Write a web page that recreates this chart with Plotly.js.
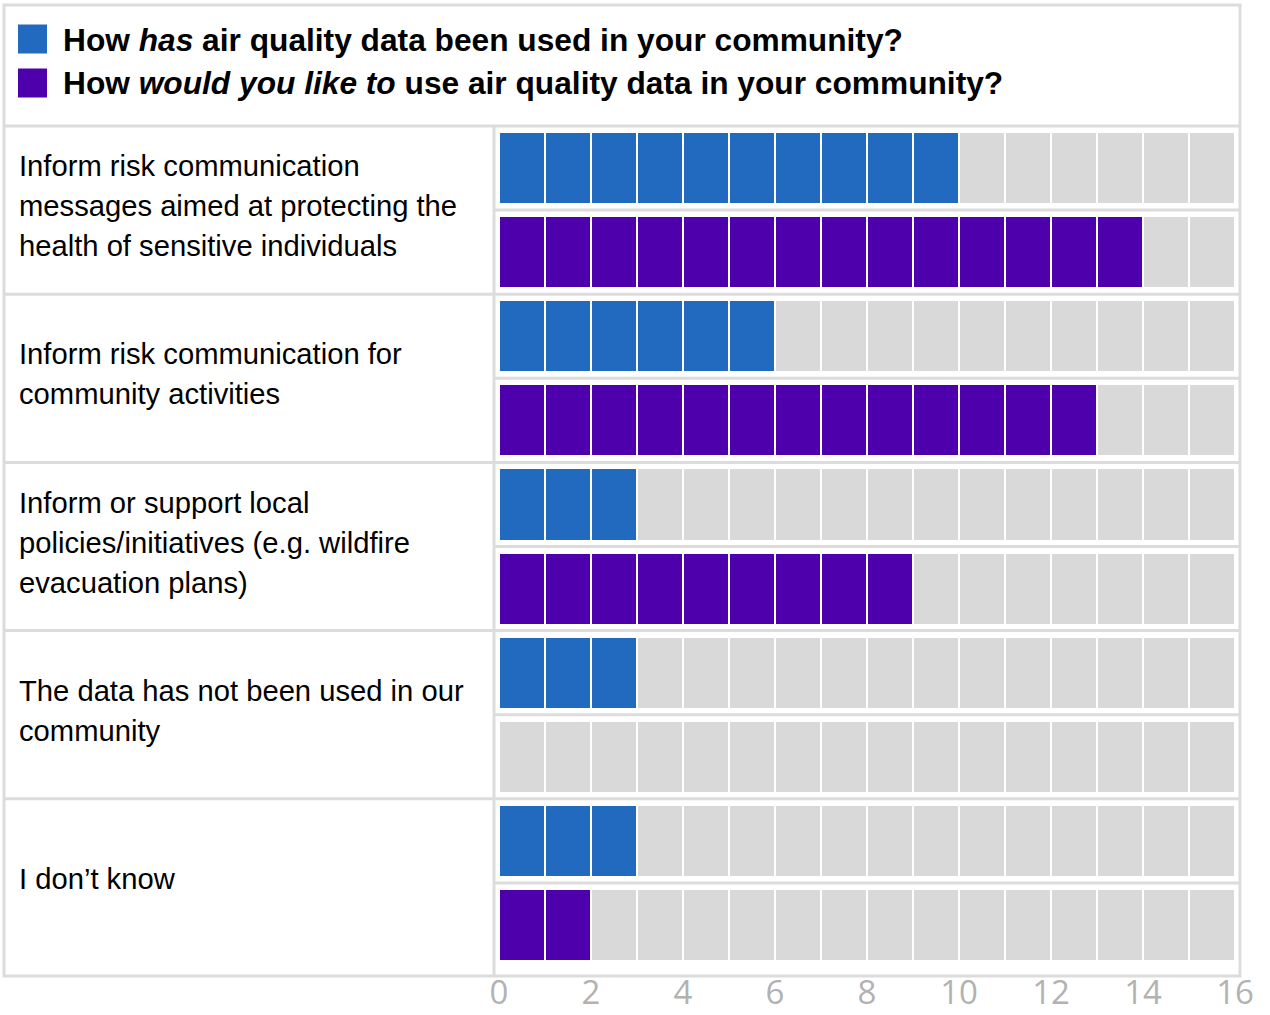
<!DOCTYPE html>
<html>
<head>
<meta charset="utf-8">
<script src="https://cdn.plot.ly/plotly-3.0.1.min.js"></script>
<style>
  html, body { margin: 0; padding: 0; background: #ffffff; }
  #chart { width: 1270px; height: 1015px; }
</style>
</head>
<body>
<div id="chart"></div>
<script>
// ---- data ----
const categories = [
  "Inform risk communication<br>messages aimed at protecting the<br>health of sensitive individuals",
  "Inform risk communication for<br>community activities",
  "Inform or support local<br>policies/initiatives (e.g. wildfire<br>evacuation plans)",
  "The data has not been used in our<br>community",
  "I don\u2019t know"
];
const hasUsed = [10, 6, 3, 3, 3];
const wouldLike = [14, 13, 9, 0, 2];
const totalRespondents = 16;
const seriesNames = [
  "<b>How <i>has</i> air quality data been used in your community?</b>",
  "<b>How <i>would you like to</i> use air quality data in your community?</b>"
];
const tickValues = [0, 2, 4, 6, 8, 10, 12, 14, 16];

// ---- styles ----
const BLUE = "#226AC0";
const PURPLE = "#4E00AD";
const EMPTY = "#D9D9D9";
const RULE = "#DCDCDC";
const LABEL_FONT = "'Liberation Sans', Arial, sans-serif";

// ---- page geometry (pixels) ----
const W = 1270, H = 1015;
const M = { l: 499, r: 35, t: 126, b: 48 };
const plotW = W - M.l - M.r, plotH = H - M.t - M.b;
const px2x = p => (p - M.l) / plotW;
const px2y = p => (H - M.b - p) / plotH;

// ---- build the waffle matrix from the counts ----
const z = [];
categories.forEach((c, i) => {
  const rowHas = [], rowWould = [];
  for (let j = 0; j < totalRespondents; j++) {
    rowHas.push(j < hasUsed[i] ? 1 : 0);
    rowWould.push(j < wouldLike[i] ? 2 : 0);
  }
  z.push(rowHas, rowWould);
});

const trace = {
  type: "heatmap",
  z: z,
  x0: 0.5, dx: 1,
  y0: 0, dy: 1,
  zmin: 0, zmax: 2,
  colorscale: [
    [0, EMPTY], [0.3333, EMPTY],
    [0.3334, BLUE], [0.6666, BLUE],
    [0.6667, PURPLE], [1, PURPLE]
  ],
  showscale: false,
  xgap: 2,
  ygap: 14,
  hoverinfo: "skip"
};

// ---- frame lines ----
const shapes = [];
const line = (x0, y0, x1, y1) => ({
  type: "line", xref: "paper", yref: "paper", x0, y0, x1, y1,
  line: { color: RULE, width: 3 }
});
// outer frame
shapes.push({ type: "rect", xref: "paper", yref: "paper",
  x0: px2x(4), x1: px2x(1240), y0: px2y(976), y1: px2y(5),
  line: { color: RULE, width: 3 }, fillcolor: "rgba(0,0,0,0)" });
// legend separator
shapes.push(line(px2x(4), px2y(126), px2x(1240), px2y(126)));
// label column separator
shapes.push(line(px2x(494), px2y(126), px2x(494), px2y(976)));
// group separators & within-group separators
for (let g = 0; g < categories.length; g++) {
  const within = 2 * g + 0.5;
  shapes.push({ type: "line", xref: "paper", yref: "y",
    x0: px2x(494), x1: px2x(1240), y0: within, y1: within,
    line: { color: RULE, width: 3 } });
  if (g < categories.length - 1) {
    const between = 2 * g + 1.5;
    shapes.push({ type: "line", xref: "paper", yref: "y",
      x0: px2x(4), x1: px2x(1240), y0: between, y1: between,
      line: { color: RULE, width: 3 } });
  }
}
// legend swatches
[BLUE, PURPLE].forEach((col, k) => {
  const cy = k === 0 ? 39 : 83;
  shapes.push({ type: "rect", xref: "paper", yref: "paper",
    x0: px2x(18), x1: px2x(47), y0: px2y(cy + 14.5), y1: px2y(cy - 14.5),
    line: { width: 0 }, fillcolor: col });
});

// ---- annotations ----
const annotations = [];
seriesNames.forEach((name, k) => {
  const cy = k === 0 ? 40 : 83;
  annotations.push({
    xref: "paper", yref: "paper", x: px2x(61), y: px2y(cy),
    xanchor: "left", yanchor: "middle", showarrow: false,
    text: name, align: "left",
    font: { family: LABEL_FONT, size: 31.7, color: "#000" }
  });
});
categories.forEach((cat, g) => {
  const lines = cat.split("<br>");
  const n = lines.length;
  lines.forEach((ln, i) => {
    annotations.push({
      xref: "paper", yref: "y", x: px2x(17), y: 2 * g + 0.5,
      yshift: -((i - (n - 1) / 2) * 40) + 4,
      xanchor: "left", yanchor: "middle", showarrow: false,
      text: ln, align: "left",
      font: { family: LABEL_FONT, size: 29.2, color: "#000" }
    });
  });
});

const layout = {
  width: W, height: H,
  margin: M,
  paper_bgcolor: "#ffffff",
  plot_bgcolor: "#ffffff",
  showlegend: false,
  xaxis: {
    range: [0, totalRespondents],
    tickvals: tickValues,
    ticktext: tickValues.map(String),
    showgrid: false, zeroline: false, showline: false,
    ticks: "",
    ticklabelstandoff: 3,
    tickfont: { family: "'Open Sans', sans-serif", size: 33, color: "#B2B2B2" },
    fixedrange: true
  },
  yaxis: {
    range: [2 * categories.length - 0.5, -0.5],
    showgrid: false, zeroline: false, showline: false,
    showticklabels: false, ticks: "",
    fixedrange: true
  },
  shapes: shapes,
  annotations: annotations
};

Plotly.newPlot("chart", [trace], layout, { displayModeBar: false, staticPlot: true });
</script>
</body>
</html>
